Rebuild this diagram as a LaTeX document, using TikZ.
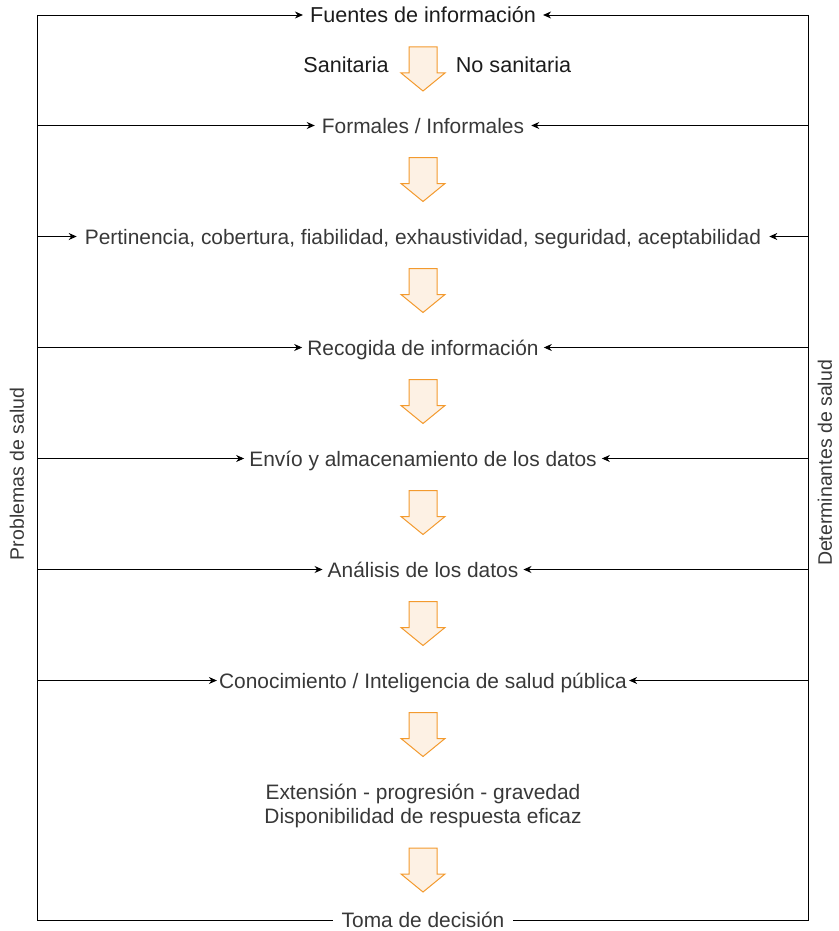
\documentclass[tikz,border=0pt]{standalone}
\usepackage{fontspec}
\setmainfont{Liberation Sans}
\usetikzlibrary{arrows.meta}
\definecolor{arrfill}{HTML}{FDF1E4}
\definecolor{arrdraw}{HTML}{F39A2E}
\definecolor{txtdark}{HTML}{1C1C1C}
\definecolor{txtgray}{HTML}{383838}
\tikzset{
  lbl/.style={font=\fontsize{20.9}{20.9}\selectfont, text=txtgray, inner xsep=5pt, inner ysep=0pt, text height=15pt, text depth=0pt},
  lbldark/.style={lbl, font=\fontsize{21.6}{21.6}\selectfont, text=txtdark},
  sidelbl/.style={font=\fontsize{19.5}{19.5}\selectfont, text=txtgray, rotate=90, inner sep=0pt},
  conn/.style={line width=0.9pt, draw=black},
  arr/.style={conn, -{Stealth[length=8pt,width=7pt]}},
  bigarrow/.pic={\path[fill=arrfill,draw=arrdraw,line width=1pt,line join=miter]
    (-14,0) -- (14,0) -- (14,26) -- (22,26) -- (0,44) -- (-22,26) -- (-14,26) -- cycle;}
}
\begin{document}
\begin{tikzpicture}[x=1pt,y=-1pt]
\useasboundingbox (0,0) rectangle (838,931);
% frame corners
\coordinate (TL) at (37,15);
\coordinate (TR) at (808,15);
\coordinate (BL) at (37,920);
\coordinate (BR) at (808,920);
% texts
\node[lbldark, inner xsep=7pt] (fuentes) at (423,15) {Fuentes de información};
\node[lbldark] (sanit) at (346,65) {Sanitaria};
\node[lbldark] (nosanit) at (513.5,65) {No sanitaria};
\node[lbl, inner xsep=7pt] (formales) at (423,125.5) {Formales / Informales};
\node[lbl, inner xsep=8pt] (pert) at (423,236.5) {Pertinencia, cobertura, fiabilidad, exhaustividad, seguridad, aceptabilidad};
\node[lbl] (recog) at (423,347.5) {Recogida de información};
\node[lbl] (envio) at (423,458.5) {Envío y almacenamiento de los datos};
\node[lbl] (analisis) at (423,569.5) {Análisis de los datos};
\node[lbl, inner xsep=2pt] (conoc) at (423,680.5) {Conocimiento / Inteligencia de salud pública};
\node[lbl, text height=, text depth=, align=center, font=\fontsize{20.9}{24}\selectfont, anchor=base] (ext) at (423,823) {Extensión - progresión - gravedad\\Disponibilidad de respuesta eficaz};
\node[lbl, inner xsep=8pt] (toma) at (423,920) {Toma de decisión};
\node[sidelbl] (problemas) at (17,474) {Problemas de salud};
\node[sidelbl] (determ) at (825,463) {Determinantes de salud};
% big arrows
\foreach \y in {47,157.5,268.5,379.5,490.5,601.5,712.5,848}
  \pic at (423,\y) {bigarrow};
% frame lines
\draw[conn] (TL) -- (BL) -- (toma.west);
\draw[conn] (TR) -- (BR) -- (toma.east);
% arrows from both sides
\foreach \n in {fuentes,formales,pert,recog,envio,analisis,conoc}{
  \draw[arr] (TL |- \n.west) -- (\n.west);
  \draw[arr] (TR |- \n.east) -- (\n.east);
}
\end{tikzpicture}
\end{document}
